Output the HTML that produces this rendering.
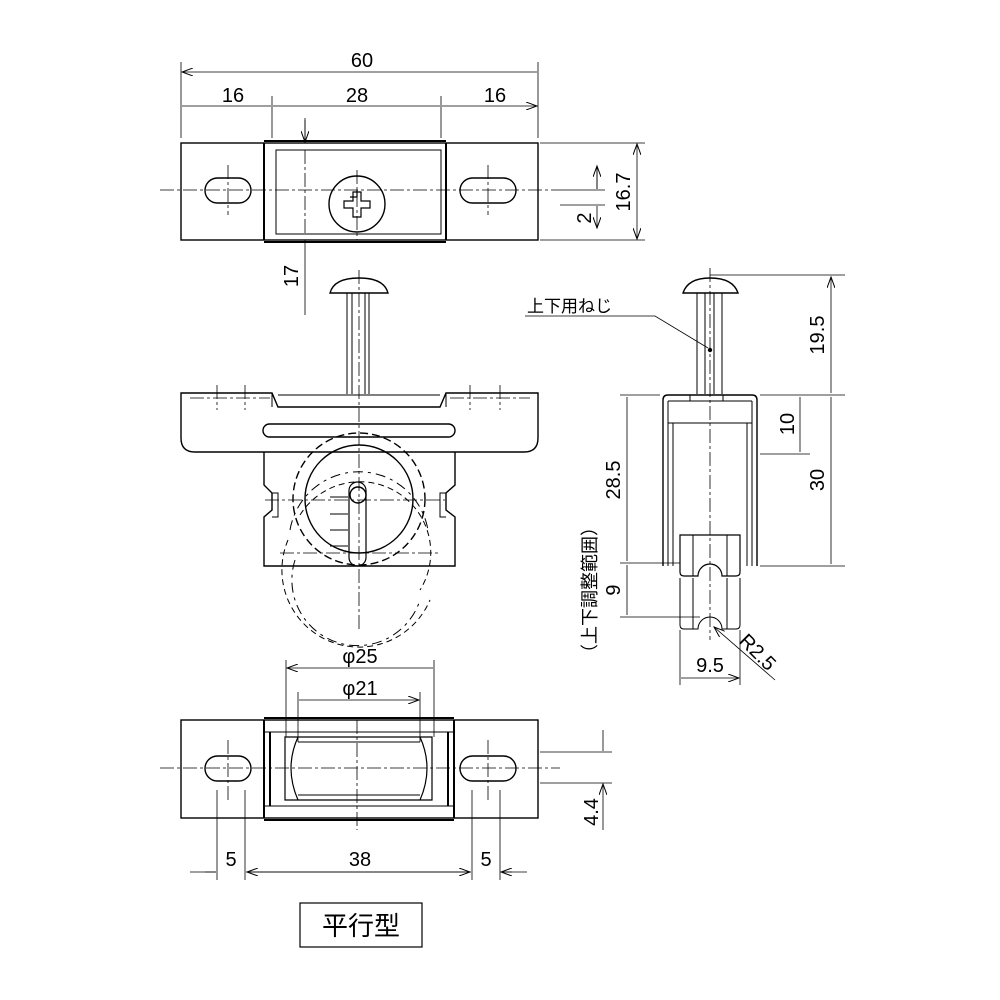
<!DOCTYPE html>
<html><head><meta charset="utf-8"><style>body{margin:0;background:#fff}svg{display:block}text{font-family:"Liberation Sans","Noto Sans CJK JP",sans-serif;fill:#000}</style></head><body>
<svg width="1000" height="1000" viewBox="0 0 1000 1000" xmlns="http://www.w3.org/2000/svg">
<defs><marker id="a" markerWidth="12" markerHeight="8" refX="11" refY="4" orient="auto-start-reverse" markerUnits="userSpaceOnUse"><path d="M0,0 L11,4 L0,8" fill="none" stroke="#000" stroke-width="1"/></marker></defs>
<g fill="none" stroke="#000" stroke-width="1.4">
<!-- TOP VIEW -->
<rect x="181" y="143" width="357" height="97"/>
<path d="M264 143 V240 M446 143 V240 M264 141 H446 M264 242 H446" stroke-width="2"/>
<rect x="276" y="150" width="165" height="84" stroke-width="1"/>
<rect x="205" y="178" width="46" height="25" rx="12.5"/>
<rect x="460" y="178" width="56" height="25" rx="12.5"/>
<circle cx="357" cy="204" r="28"/>
<path d="M350 197h7v-7h-0 M344 201h9v-9h8v9h9v7h-9v9h-8v-9h-9z" stroke-width="1.2"/>
<path d="M160 190 H560 M228 165 V215 M488 165 V215 M357 170 V240 M305 150 V235" stroke-width="0.8" stroke-dasharray="14 3 3 3"/>
<!-- dims top -->
<g stroke-width="0.8">
<path d="M181 62 V138 M538 62 V138 M272 96 V138 M441 96 V138"/>
<path d="M182 72 H537 M182 106 H271 M273 106 H440 M442 106 H537" marker-start="url(#a)" marker-end="url(#a)"/>
<path d="M540 143 H645 M540 240 H645 M560 205 H605 M560 190 H605"/>
<path d="M637 144 V239" marker-start="url(#a)" marker-end="url(#a)"/>
<path d="M597 166 V189 M597 206 V228" marker-end="url(#a)"/>
<path d="M597 189 V166" marker-end="url(#a)"/>
<path d="M305 118 V143 M305 240 V315" />
<path d="M305 120 V142" marker-end="url(#a)"/>
</g>
<!-- MIDDLE VIEW -->
<path d="M330 293 Q334 278 359 278 Q384 278 388 293 Z"/>
<path d="M347 293 V394 M369 293 V394 M352 293 V394 M365 293 V394" stroke-width="1"/>
<path d="M181 393 H272 L278 407 H440 L446 393 H538 V438 Q538 452 524 452 H195 Q181 452 181 438 Z"/>
<path d="M272 393 V407 M446 393 V407 M278 395 H440" stroke-width="1"/>
<rect x="263" y="424" width="192" height="13" rx="6.5"/>
<path d="M264 452 V485 L272 493 V510 L264 517 V566 H455 V517 L446 510 V493 L455 485 V452"/>
<path d="M272 493 H278 V517 H272 M446 493 H440 V517 H446" stroke-width="1"/>
<rect x="349" y="482" width="17" height="84" rx="8.5" stroke-width="1.2"/>
<circle cx="358" cy="495" r="8"/>
<circle cx="359" cy="499" r="66" stroke-dasharray="8 4"/>
<circle cx="359" cy="499" r="54" />
<path d="M295 560 A65 65 0 0 0 420 600 M290 530 A70 70 0 0 1 428 530" stroke-dasharray="10 5 3 5" stroke-width="1"/>
<path d="M288 540 A75 75 0 0 0 430 600 M300 515 A70 70 0 0 1 420 590" stroke-width="1" stroke-dasharray="6 4"/>
<path d="M330 497 H348 M330 514 H348 M330 530 H348 M330 546 H348" stroke-width="1"/>
<path d="M359 270 V630 M265 500 H445 M280 553 H440 M217 385 V410 M245 385 V410 M470 385 V410 M500 385 V410 M190 398 H270 M450 398 H530" stroke-width="0.8" stroke-dasharray="14 3 3 3"/>
<!-- RIGHT VIEW -->
<path d="M683 293 Q688 278 710 278 Q733 278 738 293 Z"/>
<path d="M697 293 V394 M722 293 V394 M705 293 V394 M714 293 V394" stroke-width="1"/>
<path d="M663 566 V400 Q663 395 668 395 H752 Q757 395 757 400 V566"/>
<path d="M668 401 H752 M668 423 H752 M668 401 V566 M752 401 V566 M673 423 V566 M747 423 V566 M690 395 V401 M723 395 V401" stroke-width="1"/>
<path d="M680 535 V572 Q680 576 684 576 H698 A12 12 0 0 1 722 576 H736 Q740 576 740 572 V535 Z" stroke-width="1.2"/>
<path d="M693 535 V576 M727 535 V576" stroke-width="1"/>
<path d="M680 578 V625 Q680 629 684 629 H698 A12 12 0 0 1 722 629 H736 Q740 629 740 625 V578 M693 578 V629 M727 578 V629" stroke-width="1"/>
<path d="M710 268 V640" stroke-width="0.8" stroke-dasharray="14 3 3 3"/>
<circle cx="710" cy="350" r="1.5" fill="#000"/>
<!-- right dims -->
<g stroke-width="0.8">
<path d="M525 316 H655 L708 348"/>
<path d="M710 275 H845 M760 395 H845 M760 454 H810 M760 566 H845 M620 395 H660 M620 563 H680 M620 617 H700 M680 630 V685 M740 630 V685"/>
<path d="M831 277 V393 M831 397 V564 M800 397 V452 M627 397 V561 M627 565 V615 M681 678 H739" marker-start="url(#a)" marker-end="url(#a)"/>
<path d="M775 680 L714 627" marker-end="url(#a)"/>
</g>
<!-- BOTTOM VIEW -->
<rect x="181" y="720" width="357" height="98"/>
<path d="M264 720 V818 M454 720 V818 M264 718 H454 M264 820 H454 M270 732 V806 M448 732 V806" stroke-width="2"/>
<path d="M264 732 H454 M264 806 H454" stroke-width="1"/>
<rect x="205" y="756" width="46" height="25" rx="12.5"/>
<rect x="460" y="756" width="56" height="25" rx="12.5"/>
<path d="M285 737 H432 V800 H285 Z M298 737 Q284 768 298 800 M420 737 Q434 768 420 800" stroke-width="1.2"/>
<path d="M298 742 H420 M298 795 H420" stroke-width="1"/>
<path d="M160 768 H560 M357 720 V830 M228 740 V800 M488 740 V800" stroke-width="0.8" stroke-dasharray="14 3 3 3"/>
<g stroke-width="0.8">
<path d="M286 660 V737 M434 660 V737 M298 692 V742 M420 692 V742"/>
<path d="M287 668 H433 M299 700 H419" marker-start="url(#a)" marker-end="url(#a)"/>
<path d="M217 790 V880 M245 790 V880 M472 790 V880 M500 790 V880"/>
<path d="M190 872 H216 M246 872 H471 M501 872 H527"/>
<path d="M205 872 H216 M512 872 H501" marker-end="url(#a)"/>
<path d="M247 872 H470" marker-start="url(#a)" marker-end="url(#a)"/>
<path d="M540 752 H612 M540 783 H612 M603 730 V751 M603 830 V784" marker-end="url(#a)"/>
</g>
<rect x="300" y="903" width="122" height="44" stroke-width="1.2"/>
</g>
<g font-size="20">
<text x="362" y="67" text-anchor="middle">60</text>
<text x="233" y="102" text-anchor="middle">16</text>
<text x="357" y="102" text-anchor="middle">28</text>
<text x="495" y="102" text-anchor="middle">16</text>
<text transform="translate(630,192) rotate(-90)" text-anchor="middle">16.7</text>
<text transform="translate(591,218) rotate(-90)" text-anchor="middle">2</text>
<text transform="translate(298,276) rotate(-90)" text-anchor="middle">17</text>
<text x="527" y="312" font-size="17">上下用ねじ</text>
<text transform="translate(824,335) rotate(-90)" text-anchor="middle">19.5</text>
<text transform="translate(794,424) rotate(-90)" text-anchor="middle">10</text>
<text transform="translate(824,480) rotate(-90)" text-anchor="middle">30</text>
<text transform="translate(620,480) rotate(-90)" text-anchor="middle">28.5</text>
<text transform="translate(620,590) rotate(-90)" text-anchor="middle">9</text>
<text transform="translate(596,590) rotate(-90)" text-anchor="middle" font-size="18">（上下調整範囲）</text>
<text transform="translate(738,642) rotate(45)">R2.5</text>
<text x="710" y="672" text-anchor="middle">9.5</text>
<text x="360" y="663" text-anchor="middle">φ25</text>
<text x="360" y="695" text-anchor="middle">φ21</text>
<text x="231" y="866" text-anchor="middle">5</text>
<text x="360" y="866" text-anchor="middle">38</text>
<text x="486" y="866" text-anchor="middle">5</text>
<text transform="translate(598,812) rotate(-90)" text-anchor="middle">4.4</text>
<text x="361" y="935" text-anchor="middle" font-size="26">平行型</text>
</g>
</svg>
</body></html>
